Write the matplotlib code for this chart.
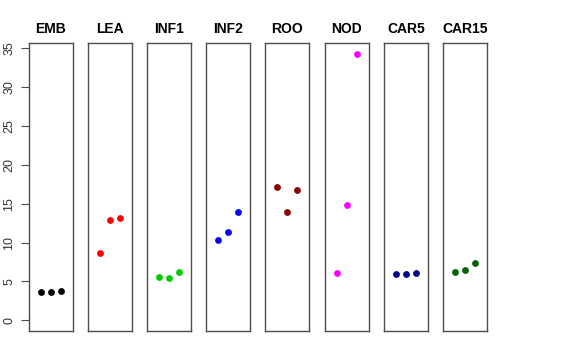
import matplotlib
matplotlib.use('Agg')
import matplotlib.pyplot as plt

# Sample groups and their replicate values
groups = ['EMB', 'LEA', 'INF1', 'INF2', 'ROO', 'NOD', 'CAR5', 'CAR15']
colors = ['black', 'red', '#00CD00', 'blue', '#8B0000', 'magenta', '#00008B', '#006400']
values = [
    [3.7, 3.6, 3.8],
    [8.7, 12.9, 13.1],
    [5.6, 5.5, 6.2],
    [10.3, 11.3, 13.9],
    [17.2, 13.9, 16.7],
    [6.1, 14.8, 34.3],
    [5.9, 5.9, 6.1],
    [6.2, 6.5, 7.4],
]
y_ticks = [0, 5, 10, 15, 20, 25, 30, 35]

plt.rcParams['font.family'] = ['Liberation Sans', 'DejaVu Sans']

W, H = 576, 360
fig = plt.figure(figsize=(W / 100, H / 100), dpi=100)

# panel left edges in pixels
lefts = [29, 88, 147, 206, 265, 325, 384, 443]
pw = 44
top, bottom = 43, 331

ymax = max(max(v) for v in values)
ylo, yhi = -0.04 * ymax, ymax * 1.04

for i, (g, c, v) in enumerate(zip(groups, colors, values)):
    ax = fig.add_axes([lefts[i] / W, 1 - bottom / H, pw / W, (bottom - top) / H])
    ax.scatter(range(1, len(v) + 1), v, s=24, color=c, zorder=3, linewidths=0)
    ax.set_xlim(-0.16, 4.16)
    ax.set_ylim(ylo, yhi)
    ax.set_xticks([])
    ax.set_title(g, fontsize=10, fontweight='bold', pad=7)
    for sp in ax.spines.values():
        sp.set_color('0.3')
        sp.set_linewidth(1)
    if i == 0:
        ax.set_yticks(y_ticks)
        ax.set_yticklabels([str(t) for t in y_ticks], rotation=90, va='center',
                           fontsize=9, color='0.2')
        ax.tick_params(axis='y', length=6, pad=4, color='0.3')
    else:
        ax.set_yticks([])

fig.savefig('out.png', dpi=100)
